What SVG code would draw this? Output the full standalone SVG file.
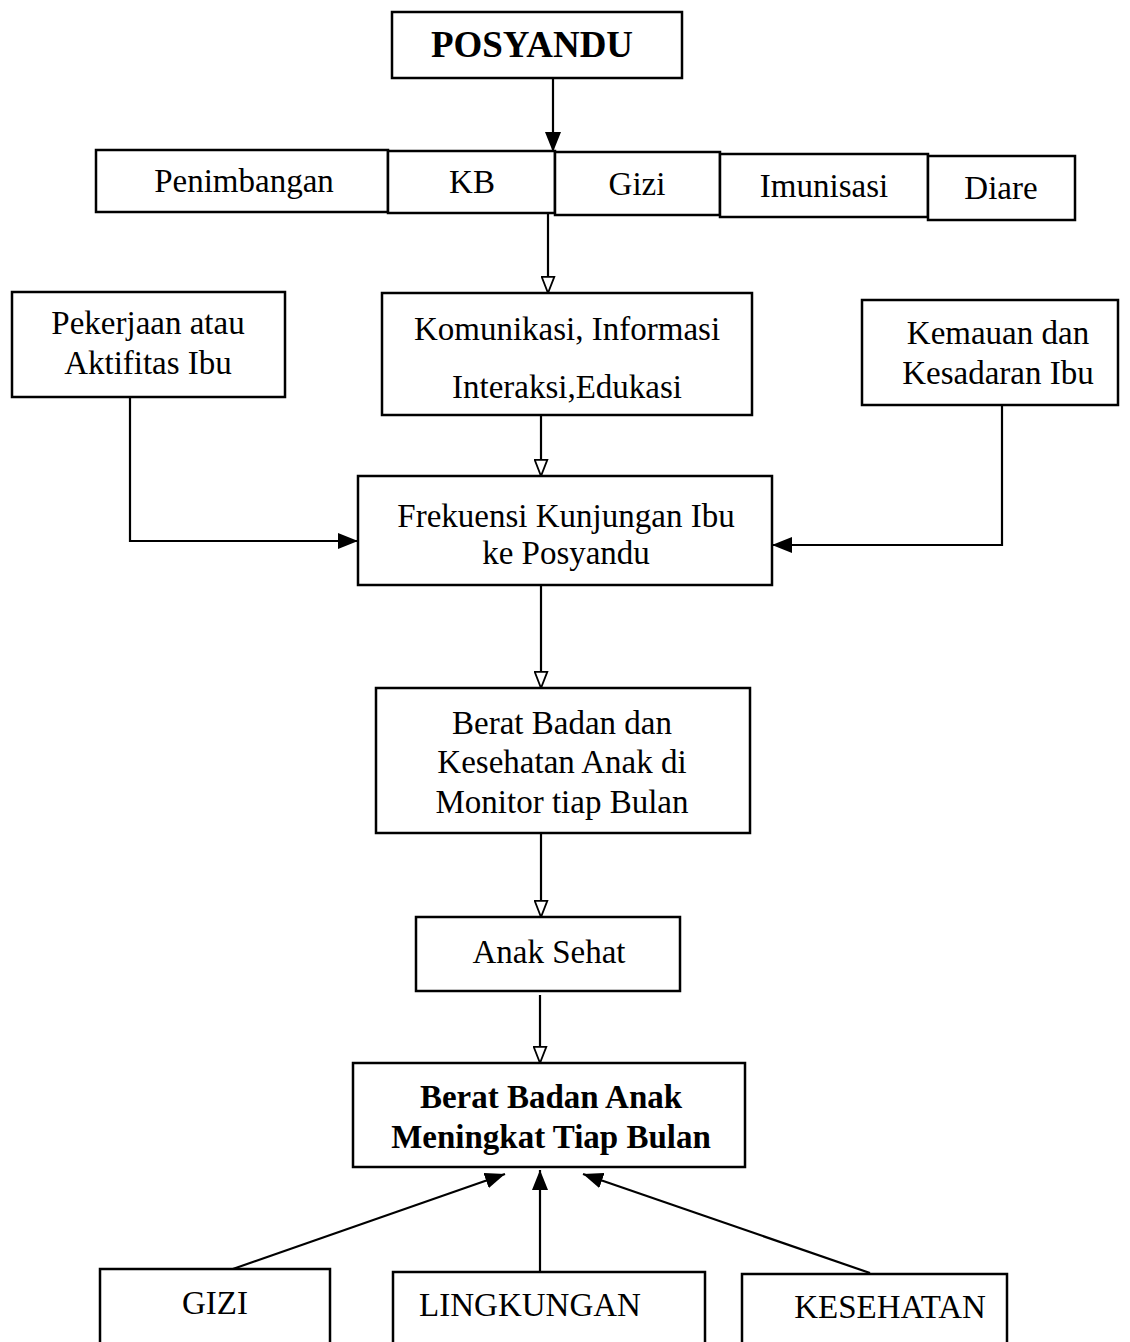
<svg xmlns="http://www.w3.org/2000/svg" width="1130" height="1342" viewBox="0 0 1130 1342">
<style>
.box{fill:#fff;stroke:#000;stroke-width:2.5}
.t{font-family:"Liberation Serif","Times New Roman",serif;font-size:33px;fill:#000;text-anchor:middle}
.b{font-weight:bold}
.c{fill:none;stroke:#000;stroke-width:2.2}
</style>
<defs>
<marker id="af" viewBox="0 0 20 16" refX="20" refY="8" markerWidth="20" markerHeight="16" markerUnits="userSpaceOnUse" orient="auto"><path d="M0,0 L20,8 L0,16 z" fill="#000"/></marker>
<marker id="ao" viewBox="0 0 20 16" refX="19" refY="8" markerWidth="18" markerHeight="15" markerUnits="userSpaceOnUse" orient="auto"><path d="M1,1 L19,8 L1,15 z" fill="#fff" stroke="#000" stroke-width="2"/></marker>
</defs>
<rect width="1130" height="1342" fill="#fff"/>
<g id="connectors">
<path class="c" d="M553,78 V152" marker-end="url(#af)"/>
<path class="c" d="M548,213 V293" marker-end="url(#ao)"/>
<path class="c" d="M541,415 V476" marker-end="url(#ao)"/>
<path class="c" d="M130,397 V541 H358" marker-end="url(#af)"/>
<path class="c" d="M1002,405 V545 H772" marker-end="url(#af)"/>
<path class="c" d="M541,585 V688" marker-end="url(#ao)"/>
<path class="c" d="M541,833 V917" marker-end="url(#ao)"/>
<path class="c" d="M540,995 V1063" marker-end="url(#ao)"/>
<path class="c" d="M230,1270 L505,1174" marker-end="url(#af)"/>
<path class="c" d="M540,1272 V1170" marker-end="url(#af)"/>
<path class="c" d="M870,1273 L583,1174" marker-end="url(#af)"/>
</g>
<g id="posyandu"><rect class="box" x="392" y="12" width="290" height="66"/><text class="t b" x="532" y="57" style="font-size:37px">POSYANDU</text></g>
<g id="penimbangan"><rect class="box" x="96" y="150" width="292" height="62"/><text class="t" x="244" y="192">Penimbangan</text></g>
<g id="kb"><rect class="box" x="388" y="151" width="167" height="62"/><text class="t" x="472" y="193">KB</text></g>
<g id="gizi-top"><rect class="box" x="555" y="152" width="165" height="63"/><text class="t" x="637" y="195">Gizi</text></g>
<g id="imunisasi"><rect class="box" x="720" y="154" width="208" height="63"/><text class="t" x="824" y="197">Imunisasi</text></g>
<g id="diare"><rect class="box" x="928" y="156" width="147" height="64"/><text class="t" x="1001" y="199">Diare</text></g>
<g id="pekerjaan"><rect class="box" x="12" y="292" width="273" height="105"/><text class="t" x="148" y="334">Pekerjaan atau</text><text class="t" x="148" y="374">Aktifitas Ibu</text></g>
<g id="kie"><rect class="box" x="382" y="293" width="370" height="122"/><text class="t" x="567" y="340">Komunikasi, Informasi</text><text class="t" x="567" y="398">Interaksi,Edukasi</text></g>
<g id="kemauan"><rect class="box" x="862" y="300" width="256" height="105"/><text class="t" x="998" y="344">Kemauan dan</text><text class="t" x="998" y="384">Kesadaran Ibu</text></g>
<g id="frekuensi"><rect class="box" x="358" y="476" width="414" height="109"/><text class="t" x="566" y="527">Frekuensi Kunjungan Ibu</text><text class="t" x="566" y="564">ke Posyandu</text></g>
<g id="berat-monitor"><rect class="box" x="376" y="688" width="374" height="145"/><text class="t" x="562" y="734">Berat Badan dan</text><text class="t" x="562" y="773">Kesehatan Anak di</text><text class="t" x="562" y="813">Monitor tiap Bulan</text></g>
<g id="anak-sehat"><rect class="box" x="416" y="917" width="264" height="74"/><text class="t" x="549" y="963">Anak Sehat</text></g>
<g id="berat-meningkat"><rect class="box" x="353" y="1063" width="392" height="104"/><text class="t b" x="551" y="1108">Berat Badan Anak</text><text class="t b" x="551" y="1148">Meningkat Tiap Bulan</text></g>
<g id="gizi"><rect class="box" x="100" y="1269" width="230" height="90"/><text class="t" x="215" y="1314">GIZI</text></g>
<g id="lingkungan"><rect class="box" x="393" y="1272" width="312" height="90"/><text class="t" x="530" y="1316">LINGKUNGAN</text></g>
<g id="kesehatan"><rect class="box" x="742" y="1274" width="265" height="90"/><text class="t" x="890" y="1318">KESEHATAN</text></g>
</svg>
